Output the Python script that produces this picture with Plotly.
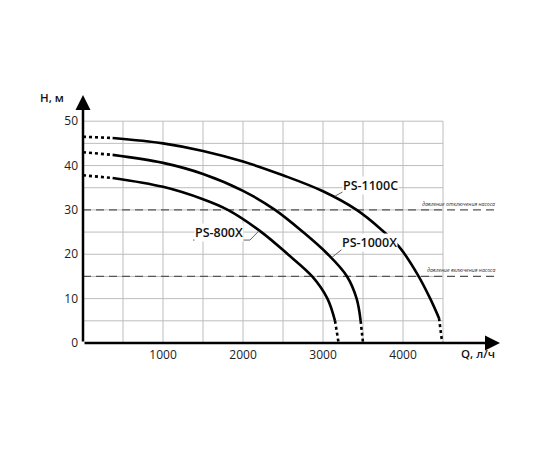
import plotly.graph_objects as go

# ---- data ----
q_1100 = [0, 370, 1000, 1500, 2000, 2500, 3000, 3420, 3720, 3960, 4190, 4340, 4450, 4490]
h_1100 = [46.5, 46.2, 45.0, 43.3, 40.9, 37.8, 34.2, 30.0, 25.7, 21.5, 15.2, 10.0, 5.6, 0.0]

q_1000 = [0, 370, 1000, 1500, 2000, 2400, 2750, 3060, 3300, 3420, 3470, 3500]
h_1000 = [43.0, 42.4, 40.6, 38.1, 34.3, 30.0, 25.0, 20.0, 15.0, 10.0, 5.0, 0.0]

q_800 = [0, 370, 1000, 1500, 1810, 2230, 2560, 2865, 3055, 3150, 3195]
h_800 = [37.8, 37.2, 35.2, 32.4, 30.0, 25.0, 20.0, 15.0, 10.0, 5.0, 0.0]

x_ticks = [1000, 2000, 3000, 4000]
y_ticks = [0, 10, 20, 30, 40, 50]
x_grid = [500, 1000, 1500, 2000, 2500, 3000, 3500, 4000, 4500]
y_grid = [5, 10, 15, 20, 25, 30, 35, 40, 45, 50]
h_off = 30      # pump switch-off pressure
h_on = 15       # pump switch-on pressure
x_max, y_max = 5212, 55.9

series = [
    ("PS-1100C", q_1100, h_1100, (3590, 35.6), (3250, 3937, 34.1), (3150, 33.1)),
    ("PS-1000X", q_1000, h_1000, (3580, 22.7), (3250, 3900, 21.3), (3112, 19.3)),
    ("PS-800X", q_800, h_800, (1700, 24.9), (1375, 2087, 23.2), (2200, 25.3)),
]

fig = go.Figure()
LW = 2.6
for name, q, h, _, _, _ in series:
    fig.add_trace(go.Scatter(x=q[:2], y=h[:2], mode="lines",
                             line=dict(color="black", width=LW, dash="dot"),
                             showlegend=False, hoverinfo="skip"))
    fig.add_trace(go.Scatter(x=q[1:-1], y=h[1:-1], mode="lines",
                             line=dict(color="black", width=LW, shape="spline", smoothing=1.0),
                             showlegend=False, name=name))
    fig.add_trace(go.Scatter(x=q[-2:], y=h[-2:], mode="lines",
                             line=dict(color="black", width=LW, dash="dot"),
                             showlegend=False, hoverinfo="skip"))

shapes = []
for q in x_grid:
    shapes.append(dict(type="line", xref="x", yref="y", x0=q, x1=q, y0=0, y1=50,
                       line=dict(color="#bdbdbd", width=1), layer="below"))
for h in y_grid:
    shapes.append(dict(type="line", xref="x", yref="y", x0=0, x1=4500, y0=h, y1=h,
                       line=dict(color="#bdbdbd", width=1), layer="below"))
for h in (h_off, h_on):
    shapes.append(dict(type="line", xref="x", yref="y", x0=0, x1=5200, y0=h, y1=h,
                       line=dict(color="#555555", width=1.2, dash="8px,5px"), layer="below"))

annotations = []
for name, q, h, (tx, ty), (u0, u1, uy), (lx, ly) in series:
    shapes.append(dict(type="line", xref="x", yref="y", x0=u0, x1=u1, y0=uy, y1=uy,
                       line=dict(color="#666666", width=1)))
    leader_x0 = u1 if name == "PS-800X" else u0
    shapes.append(dict(type="line", xref="x", yref="y", x0=leader_x0, x1=lx, y0=uy, y1=ly,
                       line=dict(color="#666666", width=1)))
    annotations.append(dict(x=tx, y=ty, xref="x", yref="y", text=name, showarrow=False,
                            font=dict(family="Open Sans", size=12.5, color="#111111", weight=600),
                            bgcolor="white", borderpad=0))

# axis arrows
annotations.append(dict(x=x_max, y=0, ax=0, ay=0, xref="x", yref="y", axref="x", ayref="y",
                        text="", showarrow=True, arrowhead=2, arrowsize=1.2, arrowwidth=2.5,
                        arrowcolor="black", standoff=0))
annotations.append(dict(x=0, y=y_max, ax=0, ay=0, xref="x", yref="y", axref="x", ayref="y",
                        text="", showarrow=True, arrowhead=2, arrowsize=1.2, arrowwidth=2.5,
                        arrowcolor="black", standoff=0))

# axis titles
annotations.append(dict(x=0, y=y_max, xref="x", yref="y", text="H, м", showarrow=False,
                        xanchor="right", yanchor="middle", xshift=-17, yshift=-2,
                        font=dict(family="Open Sans", size=11.5, color="#111111", weight=600)))
annotations.append(dict(x=4700, y=0, xref="x", yref="y", text="Q, л/ч", showarrow=False,
                        xanchor="left", yanchor="top", yshift=-1,
                        font=dict(family="Open Sans", size=11.5, color="#111111", weight=600)))

# pressure notes
annotations.append(dict(x=5180, y=h_off, xref="x", yref="y", text="давление отключения насоса",
                        showarrow=False, xanchor="right", yanchor="bottom", yshift=0,
                        font=dict(family="Open Sans", size=5.2, color="#333333", style="italic")))
annotations.append(dict(x=5180, y=h_on, xref="x", yref="y", text="давление включения насоса",
                        showarrow=False, xanchor="right", yanchor="bottom", yshift=0,
                        font=dict(family="Open Sans", size=5.2, color="#333333", style="italic")))

fig.update_layout(
    width=550, height=450,
    margin=dict(l=75, r=58, t=87, b=115),
    paper_bgcolor="white", plot_bgcolor="white",
    shapes=shapes, annotations=annotations,
    xaxis=dict(range=[0, x_max], tickvals=x_ticks, ticktext=[str(v) for v in x_ticks],
               showgrid=False, zeroline=False, showline=False, ticks="",
               ticklabelstandoff=3,
               tickfont=dict(family="Open Sans", size=12, color="#222222")),
    yaxis=dict(range=[0, y_max], tickvals=y_ticks, ticktext=[str(v) for v in y_ticks],
               showgrid=False, zeroline=False, showline=False, ticks="",
               ticklabelstandoff=4,
               tickfont=dict(family="Open Sans", size=12, color="#222222")),
    showlegend=False,
)

fig.write_html("out.html")
